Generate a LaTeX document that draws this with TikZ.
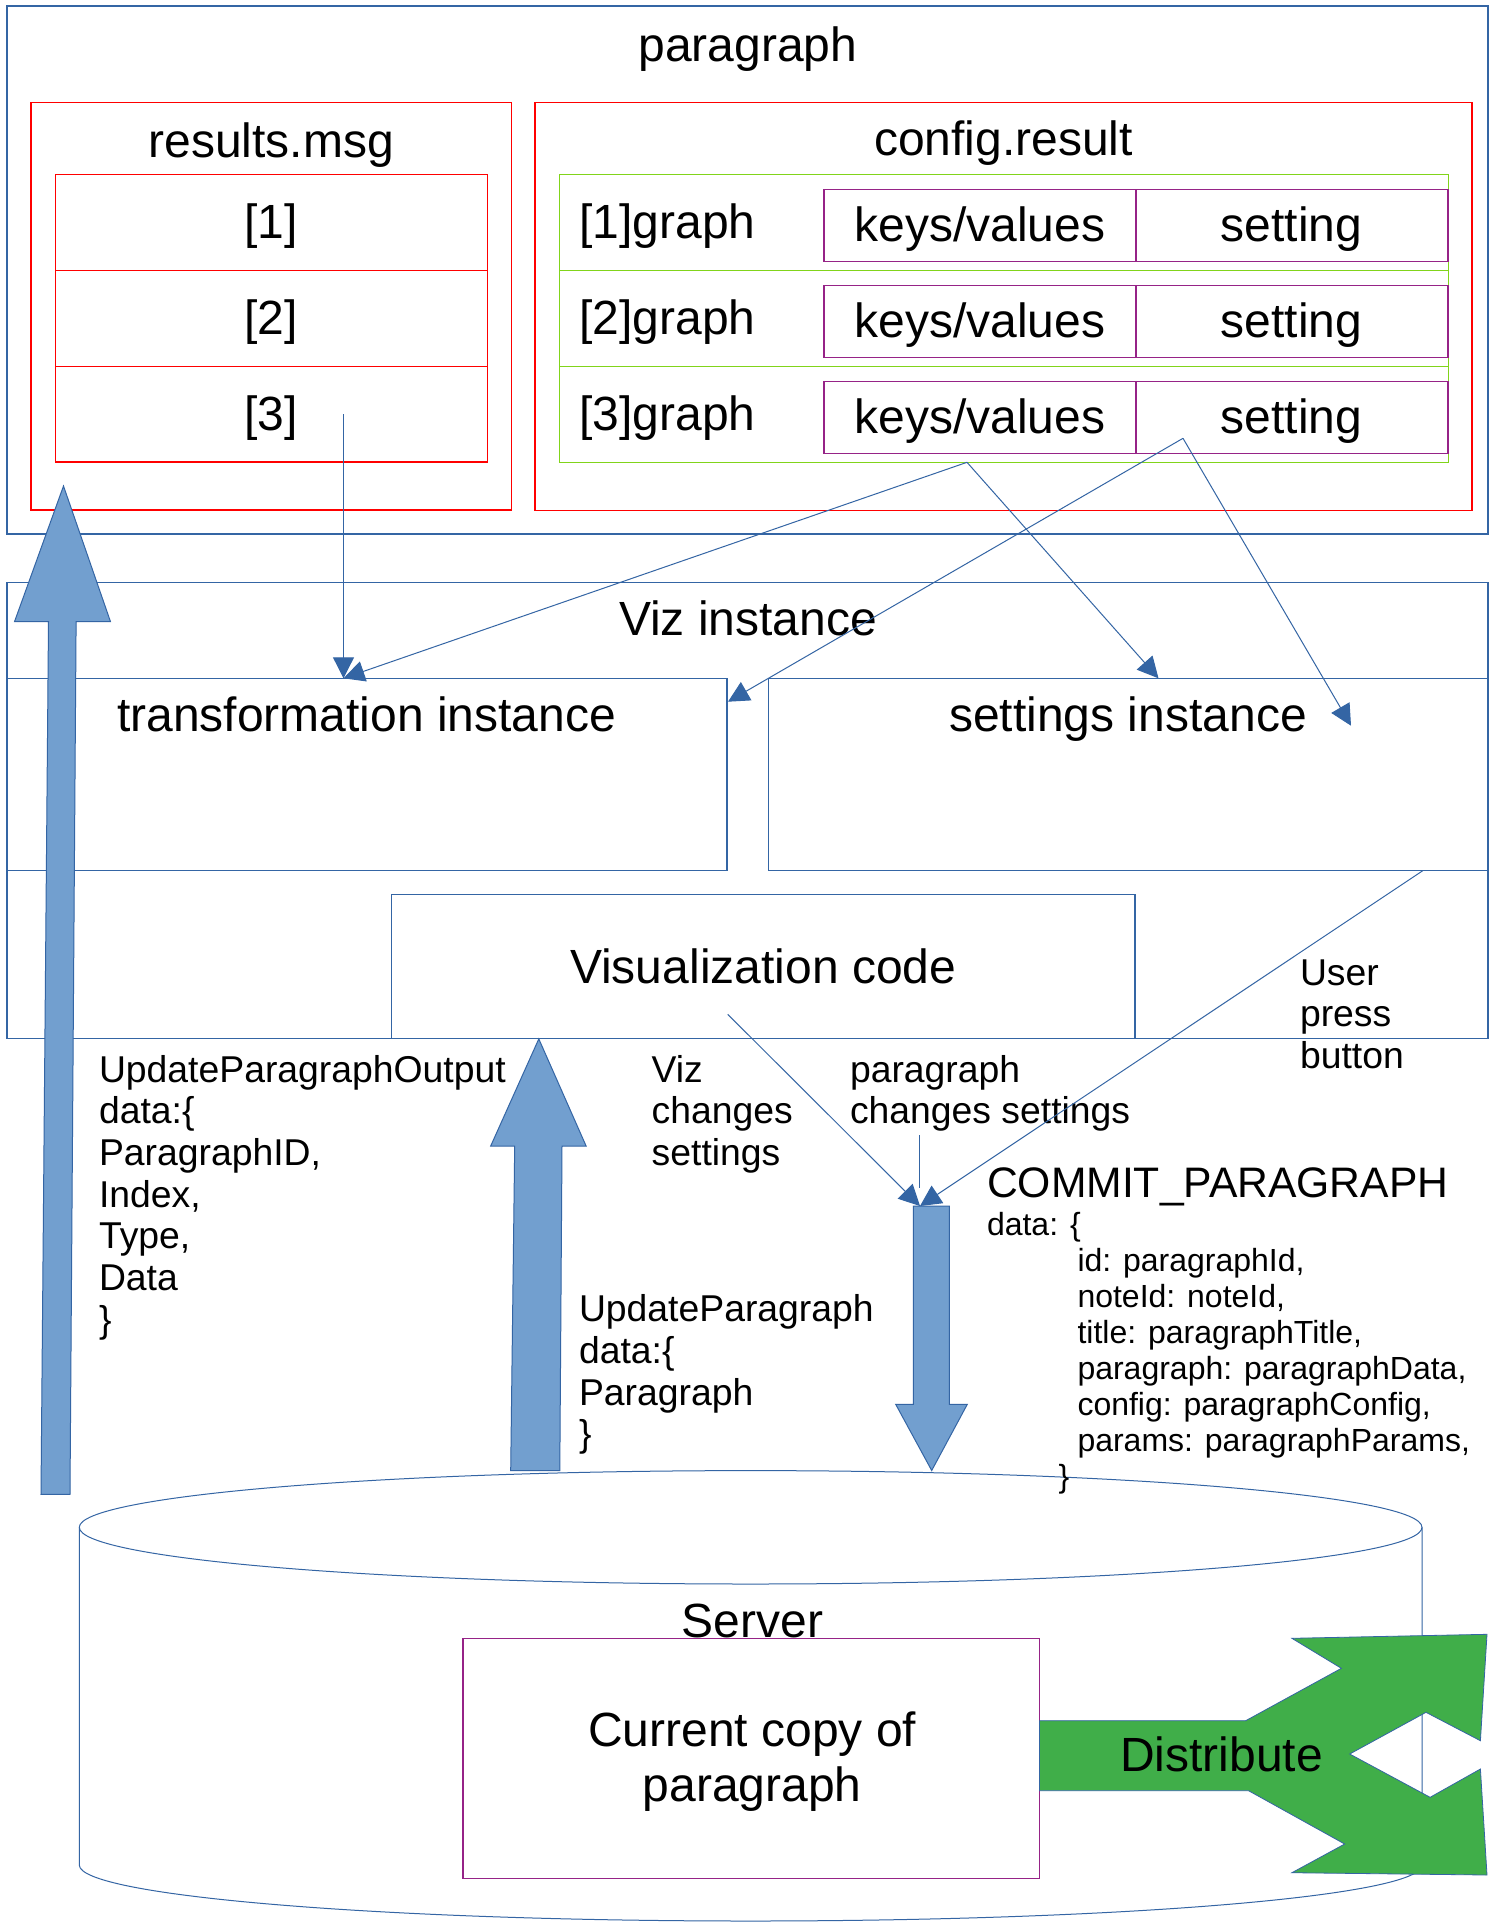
\documentclass[tikz,border=0pt]{standalone}
\usepackage{fontspec}
\setmainfont{Liberation Sans}
\usetikzlibrary{arrows.meta}
\definecolor{lob}{HTML}{3465A4}
\definecolor{lof}{HTML}{729FCF}
\definecolor{lred}{HTML}{FF0000}
\definecolor{llime}{HTML}{81D41A}
\definecolor{purp}{RGB}{150,35,135}
\definecolor{dgreen}{HTML}{40AE49}
\tikzset{
  bigf/.style={font=\fontsize{48}{55.2}\selectfont},
  medf/.style={font=\fontsize{37.33}{41.7}\selectfont},
  commf/.style={font=\fontsize{42.67}{49}\selectfont},
  smlf/.style={font=\fontsize{32}{36}\selectfont},
  txt/.style={inner sep=0pt, outer sep=0pt, anchor=base},
  ltxt/.style={inner sep=0pt, outer sep=0pt, anchor=base west, align=left},
  boxbase/.style={line width=1.3pt, inner sep=0pt, outer sep=0pt, anchor=north west},
  bbox/.style={boxbase, draw=lob},
  rbox/.style={boxbase, draw=lred},
  gbox/.style={boxbase, draw=llime},
  pbox/.style={boxbase, draw=purp},
  conn/.style={draw=lob, line width=1pt, -{Triangle[length=21pt,width=21pt]}},
  plainconn/.style={draw=lob, line width=1pt},
  bigarrow/.style={fill=lof, draw=lob, line width=1pt},
  distr/.style={fill=dgreen, draw=lob, line width=0.8pt},
}
\begin{document}
\begin{tikzpicture}[x=1pt,y=-1pt]
\useasboundingbox[fill=white] (0,0) rectangle (1499,1923);

% ---------- paragraph box ----------
\node[bbox, minimum width=1481pt, minimum height=528pt] (parbox) at (7,6) {};
\node[txt, bigf] (partitle) at (748,61) {paragraph};

% results.msg
\node[rbox, minimum width=480.4pt, minimum height=407.7pt] (resbox) at (31,102.3) {};
\node[txt, bigf] (restitle) at (271.2,157) {results.msg};
\node[rbox, minimum width=431.9pt, minimum height=96.1pt] (res1) at (55.4,174.6) {};
\node[rbox, minimum width=431.9pt, minimum height=95.7pt] (res2) at (55.4,270.7) {};
\node[rbox, minimum width=431.9pt, minimum height=95.7pt] (res3) at (55.4,366.4) {};
\node[txt, bigf] (res1t) at (271.2,238.3) {[1]};
\node[txt, bigf] (res2t) at (271.2,334) {[2]};
\node[txt, bigf] (res3t) at (271.2,430.2) {[3]};

% config.result
\node[rbox, minimum width=937pt, minimum height=408.2pt] (cfgbox) at (535,102.3) {};
\node[txt, bigf] (cfgtitle) at (1003.4,155.5) {config.result};
\node[gbox, minimum width=888.6pt, minimum height=96pt] (g1) at (559.7,174.3) {};
\node[gbox, minimum width=888.6pt, minimum height=96pt] (g2) at (559.7,270.3) {};
\node[gbox, minimum width=888.6pt, minimum height=96pt] (g3) at (559.7,366.3) {};
\node[ltxt, bigf] (g1t) at (579.5,238) {[1]graph};
\node[ltxt, bigf] (g2t) at (579.5,334) {[2]graph};
\node[ltxt, bigf] (g3t) at (579.5,430) {[3]graph};
\node[pbox, minimum width=312pt, minimum height=72pt] (kv1) at (824,189.3) {};
\node[pbox, minimum width=312pt, minimum height=72pt] (st1) at (1136,189.3) {};
\node[pbox, minimum width=312pt, minimum height=72pt] (kv2) at (824,285.3) {};
\node[pbox, minimum width=312pt, minimum height=72pt] (st2) at (1136,285.3) {};
\node[pbox, minimum width=312pt, minimum height=72pt] (kv3) at (824,381.3) {};
\node[pbox, minimum width=312pt, minimum height=72pt] (st3) at (1136,381.3) {};
\node[txt, bigf] (kv1t) at (980,241.7) {keys/values};
\node[txt, bigf] (st1t) at (1291.5,241.7) {setting};
\node[txt, bigf] (kv2t) at (980,337.7) {keys/values};
\node[txt, bigf] (st2t) at (1291.5,337.7) {setting};
\node[txt, bigf] (kv3t) at (980,433.7) {keys/values};
\node[txt, bigf] (st3t) at (1291.5,433.7) {setting};

% ---------- Viz instance ----------
\node[bbox, minimum width=1481pt, minimum height=455.8pt] (vizbox) at (7,582.5) {};
\node[txt, bigf] (viztitle) at (748,635) {Viz instance};
\node[bbox, minimum width=720pt, minimum height=192.4pt] (trans) at (7,678.3) {};
\node[txt, bigf] (transt) at (366.7,731.7) {transformation instance};
\node[bbox, minimum width=719.7pt, minimum height=192.4pt] (sett) at (768.3,678.3) {};
\node[txt, bigf] (settt) at (1128,731.7) {settings instance};
\node[bbox, minimum width=743.5pt, minimum height=143.8pt] (viscode) at (391.5,894.5) {};
\node[txt, bigf] (viscodet) at (763.2,983) {Visualization code};

% ---------- Server cylinder ----------
\draw[lob, line width=1pt] (750.65,1527.3) ellipse [x radius=671.35pt, y radius=56.7pt];
\draw[lob, line width=1pt] (79.3,1527.3) -- (79.3,1865)
  arc[start angle=180, end angle=360, x radius=671.35pt, y radius=56pt]
  -- (1422,1527.3);
\node[txt, bigf] (servert) at (752.4,1637) {Server};
\node[pbox, minimum width=576.5pt, minimum height=240pt] (copybox) at (463,1638.3) {};
% multi-line nodes: base anchor = baseline of the last line
\node[inner sep=0pt, outer sep=0pt, anchor=base, align=center,
      font=\fontsize{48}{54.3}\selectfont] (copyt) at (752.3,1801) {Current copy of\\paragraph};

% Distribute shape
\draw[distr] (1039.5,1720.7) -- (1245.7,1720.7) -- (1341.4,1668.3) -- (1291.9,1638.3)
  -- (1487,1634.3) -- (1480.4,1740.7) -- (1426,1712.3) -- (1349.7,1754)
  -- (1430.1,1797.3) -- (1480.4,1769) -- (1487,1875) -- (1291.9,1872.7)
  -- (1344.7,1844) -- (1248.6,1790.7) -- (1039.5,1790.7) -- cycle;
\node[txt, bigf] (distt) at (1221.5,1771.7) {Distribute};

% ---------- big block arrows ----------
\draw[bigarrow] (63.5,486) -- (110.5,621.7) -- (76.1,621.7) -- (70,1494.3)
  -- (41,1494.3) -- (48.5,621.7) -- (14.5,621.7) -- cycle;
\draw[bigarrow] (538.8,1038.9) -- (586.2,1146.2) -- (562,1146.2) -- (559.8,1470.7)
  -- (510.7,1470.7) -- (514.7,1146.2) -- (490.6,1146.2) -- cycle;
\draw[bigarrow] (913.3,1206) -- (949.3,1206) -- (949.3,1404.3) -- (967.3,1404.3)
  -- (931.7,1470.5) -- (895.7,1404.3) -- (913.3,1404.3) -- cycle;

% ---------- labels ----------
\node[ltxt, medf] (upo) at (99,1332.2) {UpdateParagraphOutput\\data:\{\\ParagraphID,\\Index,\\Type,\\Data\\\}};
\node[ltxt, medf] (upd) at (579,1446.8) {UpdateParagraph\\data:\{\\Paragraph\\\}};
\node[ltxt, medf] (vizch) at (651.7,1165.4) {Viz\\changes\\settings};
\node[ltxt, medf] (parch) at (850,1123.7) {paragraph\\changes settings};
\node[ltxt, medf] (user) at (1300,1068.4) {User\\press\\button};
\node[ltxt, commf] (committ) at (987,1197) {COMMIT\_PARAGRAPH};
\node[ltxt, smlf] (commitd) at (987,1487) {data: \{\\
\hspace*{90.5pt}id: paragraphId,\\
\hspace*{90.5pt}noteId: noteId,\\
\hspace*{90.5pt}title: paragraphTitle,\\
\hspace*{90.5pt}paragraph: paragraphData,\\
\hspace*{90.5pt}config: paragraphConfig,\\
\hspace*{90.5pt}params: paragraphParams,\\
\hspace*{71.5pt}\}};

% ---------- thin connectors ----------
\coordinate (r3src) at (343.5,414);
\coordinate (transin) at (r3src |- trans.north);
\coordinate (kvsrc) at (967,462.3);
\coordinate (setsrc) at (1183,438.3);
\coordinate (settin1) at (1158.5,678.3);
\coordinate (transin2) at (728,701.7);
\coordinate (settin2) at (1351,725.7);
\coordinate (settout) at (1422.7,870.7);
\coordinate (vizsrc) at (727.7,1014.3);
\coordinate (commitin) at (920,1206);
\coordinate (pcsrc) at (919.3,1135);
\coordinate (pcend) at (919.3,1188);

\draw[conn] (r3src) -- (transin);
\draw[conn] (kvsrc) -- (transin);
\draw[conn] (kvsrc) -- (settin1);
\draw[conn] (setsrc) -- (transin2);
\draw[conn] (setsrc) -- (settin2);
\draw[conn] (settout) -- (commitin);
\draw[conn] (vizsrc) -- (commitin);
\draw[plainconn] (pcsrc) -- (pcend);
\end{tikzpicture}
\end{document}
